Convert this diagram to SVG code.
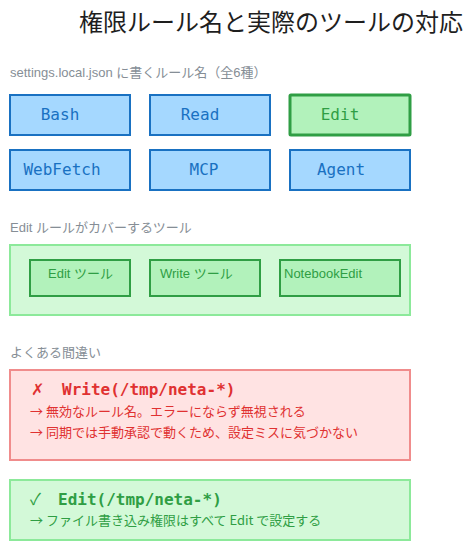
<svg xmlns="http://www.w3.org/2000/svg" width="474" height="550" viewBox="0 0 474 550">
<style>
.sans{font-family:"Liberation Sans","Noto Sans CJK JP",sans-serif}
.cjk{font-family:"Noto Sans CJK JP",sans-serif}
.mono{font-family:"DejaVu Sans Mono","Liberation Mono","Noto Sans CJK JP",monospace}
.title{font-size:24px;fill:#1e1e1e}
.sec{font-size:13px;fill:#868e96}
.rule{fill:#a5d8ff;stroke:#1971c2;stroke-width:2}
.ruleT{font-size:16px;fill:#1971c2;text-anchor:middle}
.ruleOn{fill:#b2f2bb;stroke:#2f9e44;stroke-width:3}
.ruleOnT{font-size:16px;fill:#2f9e44;text-anchor:middle}
.cover{fill:#d3f9d8;stroke:#8ce99a;stroke-width:2}
.tool{fill:#b2f2bb;stroke:#2f9e44;stroke-width:2}
.toolT{font-size:13px;fill:#2f9e44}
.bad{fill:#ffe3e3;stroke:#f08c8c;stroke-width:2}
.badT{fill:#e03131}
.good{fill:#d3f9d8;stroke:#8ce99a;stroke-width:2}
.goodT{fill:#2f9e44}
.code{font-size:16px;font-weight:bold}
.mark{font-size:16px}
.note{font-size:13px}
</style>
<text class="sans title" x="79" y="31">権限ルール名と実際のツールの対応</text>

<text class="sans sec" x="10" y="77">settings.local.json に書くルール名（全6種）</text>
<g id="rule-bash"><rect class="rule" x="10" y="95" width="120" height="40"/><text class="mono ruleT" x="60" y="120">Bash</text></g>
<g id="rule-read"><rect class="rule" x="150" y="95" width="120" height="40"/><text class="mono ruleT" x="200" y="120">Read</text></g>
<g id="rule-edit"><rect class="ruleOn" x="290" y="95" width="120" height="40" rx="1"/><text class="mono ruleOnT" x="340" y="120">Edit</text></g>
<g id="rule-webfetch"><rect class="rule" x="10" y="150" width="120" height="40"/><text class="mono ruleT" x="62" y="175">WebFetch</text></g>
<g id="rule-mcp"><rect class="rule" x="150" y="150" width="120" height="40"/><text class="mono ruleT" x="204" y="175">MCP</text></g>
<g id="rule-agent"><rect class="rule" x="290" y="150" width="120" height="40"/><text class="mono ruleT" x="341" y="175">Agent</text></g>

<text class="sans sec" x="10" y="232">Edit ルールがカバーするツール</text>
<g id="cover-group"><rect class="cover" x="10" y="245" width="400" height="70"/></g>
<g id="tool-edit"><rect class="tool" x="30" y="260" width="100" height="36"/><text class="sans toolT" x="48" y="278">Edit ツール</text></g>
<g id="tool-write"><rect class="tool" x="150" y="260" width="110" height="36"/><text class="sans toolT" x="160" y="278">Write ツール</text></g>
<g id="tool-notebook"><rect class="tool" x="280" y="260" width="120" height="36"/><text class="sans toolT" x="284" y="278">NotebookEdit</text></g>

<text class="sans sec" x="10" y="357">よくある間違い</text>
<g id="mistake"><rect class="bad" x="10" y="370" width="400" height="90"/>
<text class="cjk mark badT" x="31" y="395">✗</text>
<text class="mono code badT" x="62" y="395">Write(/tmp/neta-*)</text>
<text class="cjk note badT" x="30" y="416">→ 無効なルール名。エラーにならず無視される</text>
<text class="cjk note badT" x="30" y="437">→ 同期では手動承認で動くため、設定ミスに気づかない</text>
</g>
<g id="correct"><rect class="good" x="10" y="480" width="400" height="60"/>
<text class="cjk mark goodT" x="30" y="505">✓</text>
<text class="mono code goodT" x="58" y="505">Edit(/tmp/neta-*)</text>
<text class="cjk note goodT" x="30" y="525">→ ファイル書き込み権限はすべて Edit で設定する</text>
</g>
<g id="connectors"/>
</svg>
